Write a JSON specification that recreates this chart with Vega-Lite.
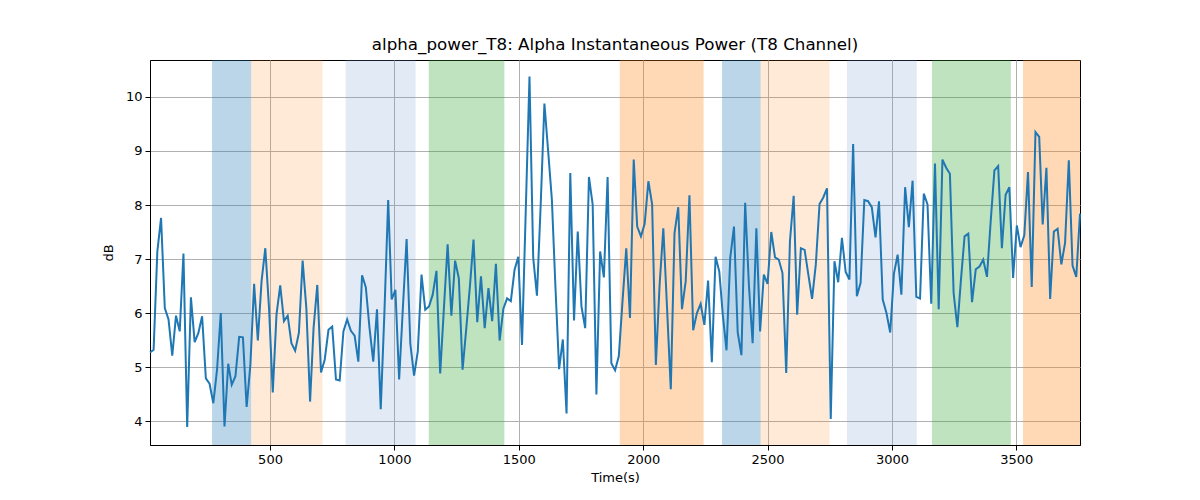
{
  "$schema": "https://vega.github.io/schema/vega-lite/v6.json",
  "width": 930,
  "height": 385,
  "autosize": "none",
  "padding": {"left": 150, "top": 60, "right": 120, "bottom": 55},
  "title": {
    "text": "alpha_power_T8: Alpha Instantaneous Power (T8 Channel)",
    "font": "DejaVu Sans",
    "fontSize": 16.7,
    "fontWeight": "normal",
    "color": "black",
    "anchor": "middle",
    "offset": 6
  },
  "datasets": {
    "bands": [
      {"start": 267, "end": 424, "kind": "A"},
      {"start": 424, "end": 711, "kind": "B"},
      {"start": 804, "end": 1085, "kind": "C"},
      {"start": 1138, "end": 1442, "kind": "D"},
      {"start": 1906, "end": 2243, "kind": "E"},
      {"start": 2317, "end": 2472, "kind": "A"},
      {"start": 2472, "end": 2749, "kind": "B"},
      {"start": 2819, "end": 3100, "kind": "C"},
      {"start": 3161, "end": 3478, "kind": "D"},
      {"start": 3527, "end": 3756, "kind": "E"}
    ],
    "power": [
      {"t": 17.5, "v": 5.27}, {"t": 32, "v": 5.32}, {"t": 47, "v": 7.14}, {"t": 62, "v": 7.76}, {"t": 77, "v": 6.09},
      {"t": 92, "v": 5.88}, {"t": 107, "v": 5.21}, {"t": 122, "v": 5.95}, {"t": 137, "v": 5.66}, {"t": 152, "v": 7.10},
      {"t": 167, "v": 3.89}, {"t": 182, "v": 6.29}, {"t": 197, "v": 5.46}, {"t": 212, "v": 5.63}, {"t": 227, "v": 5.94},
      {"t": 242, "v": 4.79}, {"t": 257, "v": 4.69}, {"t": 272, "v": 4.33}, {"t": 287, "v": 4.95}, {"t": 302, "v": 6.00},
      {"t": 317, "v": 3.90}, {"t": 332, "v": 5.06}, {"t": 346, "v": 4.67}, {"t": 361, "v": 4.83}, {"t": 376, "v": 5.56},
      {"t": 391, "v": 5.55}, {"t": 406, "v": 4.26}, {"t": 421, "v": 5.04}, {"t": 436, "v": 6.54}, {"t": 451, "v": 5.49},
      {"t": 466, "v": 6.59}, {"t": 481, "v": 7.20}, {"t": 496, "v": 6.09}, {"t": 511, "v": 4.53}, {"t": 526, "v": 5.97},
      {"t": 541, "v": 6.51}, {"t": 556, "v": 5.85}, {"t": 571, "v": 5.95}, {"t": 586, "v": 5.44}, {"t": 601, "v": 5.30},
      {"t": 616, "v": 5.63}, {"t": 631, "v": 6.97}, {"t": 646, "v": 6.09}, {"t": 661, "v": 4.36}, {"t": 675, "v": 5.72},
      {"t": 690, "v": 6.52}, {"t": 705, "v": 4.90}, {"t": 720, "v": 5.14}, {"t": 735, "v": 5.69}, {"t": 750, "v": 5.75},
      {"t": 765, "v": 4.77}, {"t": 780, "v": 4.75}, {"t": 795, "v": 5.66}, {"t": 810, "v": 5.88}, {"t": 825, "v": 5.67},
      {"t": 840, "v": 5.58}, {"t": 855, "v": 5.10}, {"t": 870, "v": 6.70}, {"t": 885, "v": 6.48}, {"t": 900, "v": 5.72},
      {"t": 915, "v": 5.10}, {"t": 930, "v": 6.07}, {"t": 945, "v": 4.22}, {"t": 960, "v": 6.03}, {"t": 975, "v": 8.09},
      {"t": 989, "v": 6.25}, {"t": 1004, "v": 6.43}, {"t": 1019, "v": 4.77}, {"t": 1034, "v": 6.09}, {"t": 1049, "v": 7.37},
      {"t": 1064, "v": 5.43}, {"t": 1079, "v": 4.84}, {"t": 1094, "v": 5.29}, {"t": 1109, "v": 6.71}, {"t": 1124, "v": 6.06},
      {"t": 1139, "v": 6.12}, {"t": 1154, "v": 6.34}, {"t": 1169, "v": 6.78}, {"t": 1184, "v": 4.88}, {"t": 1199, "v": 6.09},
      {"t": 1214, "v": 7.27}, {"t": 1229, "v": 5.95}, {"t": 1244, "v": 6.97}, {"t": 1259, "v": 6.64}, {"t": 1274, "v": 4.95},
      {"t": 1289, "v": 5.72}, {"t": 1304, "v": 6.52}, {"t": 1318, "v": 7.36}, {"t": 1333, "v": 5.83}, {"t": 1348, "v": 6.68},
      {"t": 1363, "v": 5.72}, {"t": 1378, "v": 6.46}, {"t": 1393, "v": 5.85}, {"t": 1408, "v": 6.91}, {"t": 1423, "v": 5.49},
      {"t": 1438, "v": 6.08}, {"t": 1453, "v": 6.27}, {"t": 1468, "v": 6.22}, {"t": 1483, "v": 6.80}, {"t": 1498, "v": 7.04},
      {"t": 1513, "v": 5.41}, {"t": 1528, "v": 7.9}, {"t": 1543, "v": 10.38}, {"t": 1558, "v": 7.02}, {"t": 1573, "v": 6.32},
      {"t": 1588, "v": 8.0}, {"t": 1603, "v": 9.88}, {"t": 1618, "v": 9.0}, {"t": 1633, "v": 8.10}, {"t": 1647, "v": 6.52},
      {"t": 1662, "v": 4.96}, {"t": 1677, "v": 5.51}, {"t": 1692, "v": 4.14}, {"t": 1707, "v": 8.59}, {"t": 1722, "v": 5.86},
      {"t": 1737, "v": 7.51}, {"t": 1752, "v": 6.12}, {"t": 1767, "v": 5.72}, {"t": 1782, "v": 8.52}, {"t": 1797, "v": 8.01},
      {"t": 1812, "v": 4.49}, {"t": 1827, "v": 7.14}, {"t": 1842, "v": 6.66}, {"t": 1857, "v": 8.52}, {"t": 1872, "v": 5.07},
      {"t": 1887, "v": 4.94}, {"t": 1902, "v": 5.20}, {"t": 1917, "v": 6.22}, {"t": 1932, "v": 7.20}, {"t": 1947, "v": 5.91},
      {"t": 1962, "v": 8.84}, {"t": 1976, "v": 7.60}, {"t": 1991, "v": 7.42}, {"t": 2006, "v": 7.65}, {"t": 2021, "v": 8.44},
      {"t": 2036, "v": 8.01}, {"t": 2051, "v": 5.04}, {"t": 2066, "v": 6.52}, {"t": 2081, "v": 7.57}, {"t": 2096, "v": 6.09},
      {"t": 2111, "v": 4.59}, {"t": 2126, "v": 7.48}, {"t": 2141, "v": 7.96}, {"t": 2156, "v": 6.07}, {"t": 2171, "v": 6.59},
      {"t": 2186, "v": 8.18}, {"t": 2201, "v": 5.68}, {"t": 2216, "v": 6.00}, {"t": 2231, "v": 6.17}, {"t": 2246, "v": 5.78},
      {"t": 2261, "v": 6.60}, {"t": 2276, "v": 5.09}, {"t": 2291, "v": 7.04}, {"t": 2306, "v": 6.77}, {"t": 2320, "v": 5.97},
      {"t": 2335, "v": 5.31}, {"t": 2350, "v": 7.02}, {"t": 2365, "v": 7.60}, {"t": 2380, "v": 5.64}, {"t": 2395, "v": 5.22},
      {"t": 2410, "v": 8.04}, {"t": 2425, "v": 6.52}, {"t": 2440, "v": 5.44}, {"t": 2455, "v": 7.57}, {"t": 2470, "v": 5.66},
      {"t": 2485, "v": 6.71}, {"t": 2500, "v": 6.54}, {"t": 2515, "v": 7.50}, {"t": 2530, "v": 7.03}, {"t": 2545, "v": 6.99},
      {"t": 2560, "v": 6.74}, {"t": 2575, "v": 4.89}, {"t": 2590, "v": 7.33}, {"t": 2605, "v": 8.17}, {"t": 2619, "v": 5.97},
      {"t": 2634, "v": 7.20}, {"t": 2649, "v": 7.17}, {"t": 2664, "v": 6.71}, {"t": 2679, "v": 6.26}, {"t": 2694, "v": 6.90},
      {"t": 2709, "v": 8.02}, {"t": 2724, "v": 8.14}, {"t": 2739, "v": 8.31}, {"t": 2754, "v": 4.04}, {"t": 2769, "v": 6.96},
      {"t": 2784, "v": 6.57}, {"t": 2799, "v": 7.39}, {"t": 2814, "v": 6.76}, {"t": 2829, "v": 6.62}, {"t": 2844, "v": 9.13},
      {"t": 2859, "v": 6.31}, {"t": 2874, "v": 6.56}, {"t": 2889, "v": 8.09}, {"t": 2904, "v": 8.07}, {"t": 2919, "v": 7.96},
      {"t": 2934, "v": 7.40}, {"t": 2948, "v": 8.07}, {"t": 2963, "v": 6.25}, {"t": 2978, "v": 6.00}, {"t": 2993, "v": 5.64},
      {"t": 3008, "v": 6.73}, {"t": 3023, "v": 7.08}, {"t": 3038, "v": 6.34}, {"t": 3053, "v": 8.33}, {"t": 3068, "v": 7.59},
      {"t": 3083, "v": 8.45}, {"t": 3098, "v": 6.30}, {"t": 3113, "v": 6.27}, {"t": 3128, "v": 8.21}, {"t": 3143, "v": 8.01},
      {"t": 3158, "v": 6.17}, {"t": 3173, "v": 8.77}, {"t": 3188, "v": 6.07}, {"t": 3203, "v": 8.84}, {"t": 3218, "v": 8.69},
      {"t": 3233, "v": 8.58}, {"t": 3248, "v": 6.37}, {"t": 3263, "v": 5.74}, {"t": 3277, "v": 6.59}, {"t": 3292, "v": 7.42},
      {"t": 3307, "v": 7.47}, {"t": 3322, "v": 6.20}, {"t": 3337, "v": 6.81}, {"t": 3352, "v": 6.86}, {"t": 3367, "v": 6.99},
      {"t": 3382, "v": 6.67}, {"t": 3397, "v": 7.70}, {"t": 3412, "v": 8.64}, {"t": 3427, "v": 8.72}, {"t": 3442, "v": 7.20},
      {"t": 3457, "v": 8.19}, {"t": 3472, "v": 8.33}, {"t": 3487, "v": 6.65}, {"t": 3502, "v": 7.62}, {"t": 3517, "v": 7.22},
      {"t": 3532, "v": 7.44}, {"t": 3547, "v": 8.61}, {"t": 3562, "v": 6.48}, {"t": 3577, "v": 9.35}, {"t": 3592, "v": 9.26},
      {"t": 3606, "v": 7.64}, {"t": 3621, "v": 8.69}, {"t": 3636, "v": 6.26}, {"t": 3651, "v": 7.51}, {"t": 3666, "v": 7.56},
      {"t": 3681, "v": 6.90}, {"t": 3696, "v": 7.30}, {"t": 3711, "v": 8.83}, {"t": 3726, "v": 6.88}, {"t": 3741, "v": 6.67},
      {"t": 3756, "v": 7.84}
    ]
  },
  "layer": [
    {
      "data": {"name": "bands"},
      "mark": {"type": "rect"},
      "encoding": {
        "x": {"field": "start", "type": "quantitative"},
        "x2": {"field": "end"},
        "color": {
          "field": "kind",
          "type": "nominal",
          "legend": null,
          "scale": {
            "domain": ["A", "B", "C", "D", "E"],
            "range": [
              "rgba(31,119,180,0.3)",
              "rgba(255,127,14,0.16)",
              "rgba(110,150,210,0.2)",
              "rgba(44,160,44,0.3)",
              "rgba(255,127,14,0.3)"
            ]
          }
        }
      }
    },
    {
      "data": {"name": "power"},
      "mark": {"type": "line", "color": "#1f77b4", "strokeWidth": 2},
      "encoding": {
        "x": {
          "field": "t",
          "type": "quantitative",
          "title": "Time(s)",
          "scale": {"domain": [17.5, 3756], "nice": false, "zero": false},
          "axis": {"values": [500, 1000, 1500, 2000, 2500, 3000, 3500], "format": "d"}
        },
        "y": {
          "field": "v",
          "type": "quantitative",
          "title": "dB",
          "scale": {"domain": [3.556, 10.685], "nice": false, "zero": false},
          "axis": {"values": [4, 5, 6, 7, 8, 9, 10], "format": "d"}
        }
      }
    }
  ],
  "config": {
    "view": {"stroke": "black", "strokeWidth": 1},
    "axis": {
      "labelFont": "DejaVu Sans",
      "labelFontSize": 13,
      "labelColor": "black",
      "titleFont": "DejaVu Sans",
      "titleFontSize": 13,
      "titleFontWeight": "normal",
      "titleColor": "black",
      "domainColor": "black",
      "tickColor": "black",
      "tickSize": 5,
      "grid": true,
      "gridColor": "#b0b0b0",
      "gridWidth": 1,
      "labelPadding": 3
    },
    "axisX": {"titlePadding": 5},
    "axisY": {"titlePadding": 10}
  }
}
